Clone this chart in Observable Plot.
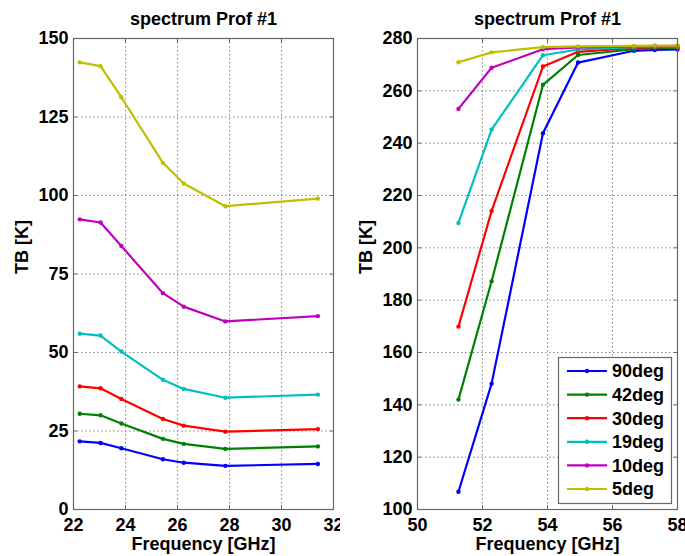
<!DOCTYPE html>
<html>
<head>
<meta charset="utf-8">
<script src="https://cdn.jsdelivr.net/npm/d3@7"></script>
<script src="https://cdn.jsdelivr.net/npm/@observablehq/plot@0.6"></script>
<style>
  html, body { margin: 0; padding: 0; background: #fff; overflow: hidden; }
  #wrap { position: relative; width: 685px; height: 556px; background: #fff; }
  #left { position: absolute; left: 0; top: 0; }
  #right { position: absolute; left: 340px; top: 0; }
</style>
</head>
<body>
<div id="wrap"><div id="left"></div><div id="right"></div></div>
<script>
// ---- data ----
const angles = ["90deg", "42deg", "30deg", "19deg", "10deg", "5deg"];
const colors = ["#0000ff", "#008000", "#ff0000", "#00bfbf", "#bf00bf", "#bfbf00"];

const freqK = [22.24, 23.04, 23.84, 25.44, 26.24, 27.84, 31.40];
const tbK_90 = [21.7, 21.2, 19.5, 16.0, 14.9, 13.9, 14.5];
const tbK_42 = [30.5, 30.0, 27.4, 22.5, 20.9, 19.3, 20.1];
const tbK_30 = [39.2, 38.6, 35.2, 28.8, 26.7, 24.8, 25.6];
const tbK_19 = [56.0, 55.4, 50.3, 41.3, 38.4, 35.6, 36.6];
const tbK_10 = [92.4, 91.4, 83.9, 68.9, 64.6, 59.9, 61.6];
const tbK_5  = [142.4, 141.2, 131.3, 110.4, 103.8, 96.6, 99.0];

const freqV = [51.26, 52.28, 53.86, 54.94, 56.66, 57.30, 58.00];
const tbV_90 = [106.8, 148.1, 243.8, 270.8, 275.3, 275.6, 275.8];
const tbV_42 = [142.0, 187.2, 262.3, 273.7, 275.9, 276.3, 276.5];
const tbV_30 = [169.9, 214.1, 269.3, 274.9, 276.4, 276.7, 276.8];
const tbV_19 = [209.5, 245.2, 273.6, 275.8, 276.7, 276.9, 277.0];
const tbV_10 = [253.1, 268.8, 275.9, 276.6, 277.0, 277.1, 277.2];
const tbV_5  = [270.9, 274.7, 276.7, 277.0, 277.2, 277.3, 277.3];

const ticksKx = [22, 24, 26, 28, 30, 32];
const ticksKy = [0, 25, 50, 75, 100, 125, 150];
const ticksVx = [50, 52, 54, 56, 58];
const ticksVy = [100, 120, 140, 160, 180, 200, 220, 240, 260, 280];

const titleText = "spectrum Prof #1";
const xLabel = "Frequency [GHz]";
const yLabel = "TB [K]";

// ---- build tables ----
function table(freq, series) {
  const rows = [];
  series.forEach((vals, i) => vals.forEach((v, j) => rows.push({angle: angles[i], f: freq[j], tb: v})));
  return rows;
}
const dataK = table(freqK, [tbK_90, tbK_42, tbK_30, tbK_19, tbK_10, tbK_5]);
const dataV = table(freqV, [tbV_90, tbV_42, tbV_30, tbV_19, tbV_10, tbV_5]);

const FONT = "'Liberation Sans', Arial, Helvetica, sans-serif";

function panel(data, xDom, yDom, xt, yt, width, mLeft, mRight) {
  return Plot.plot({
    width, height: 556,
    marginLeft: mLeft, marginRight: mRight, marginTop: 38, marginBottom: 47,
    style: {fontFamily: FONT, fontSize: "18px", fontWeight: "bold", color: "#000", background: "#fff"},
    x: {domain: xDom},
    y: {domain: yDom},
    color: {domain: angles, range: colors},
    marks: [
      Plot.gridX(xt, {stroke: "#888", strokeOpacity: 1, strokeWidth: 1, strokeDasharray: "1.5,2.5"}),
      Plot.gridY(yt, {stroke: "#888", strokeOpacity: 1, strokeWidth: 1, strokeDasharray: "1.5,2.5"}),
      Plot.line(data, {x: "f", y: "tb", z: "angle", stroke: "angle", strokeWidth: 2.2}),
      Plot.dot(data, {x: "f", y: "tb", fill: "angle", r: 2.2}),
      Plot.frame({stroke: "#666", strokeWidth: 1.2}),
      Plot.axisX(xt, {anchor: "bottom", tickSize: 0, tickPadding: 9, label: null, fontSize: 18, fontWeight: "bold"}),
      Plot.axisX(xt, {anchor: "bottom", tickSize: -4, text: null, label: null, stroke: "#666"}),
      Plot.axisX(xt, {anchor: "top", tickSize: -4, text: null, label: null, stroke: "#666"}),
      Plot.axisY(yt, {anchor: "left", tickSize: 0, tickPadding: 5, label: null, fontSize: 18, fontWeight: "bold"}),
      Plot.axisY(yt, {anchor: "left", tickSize: -4, text: null, label: null, stroke: "#666"}),
      Plot.axisY(yt, {anchor: "right", tickSize: -4, text: null, label: null, stroke: "#666"}),
      Plot.text([titleText], {frameAnchor: "top", dy: -19, lineAnchor: "middle", fontSize: 18, fontWeight: "bold", fill: "#000"}),
      Plot.text([xLabel], {frameAnchor: "bottom", dy: 35, lineAnchor: "middle", fontSize: 18, fontWeight: "bold", fill: "#000"}),
      Plot.text([yLabel], {frameAnchor: "left", dx: -51, rotate: -90, fontSize: 18, fontWeight: "bold", fill: "#000"})
    ]
  });
}

const left = panel(dataK, [22, 32], [0, 150], ticksKx, ticksKy, 340, 73, 7);
const right = panel(dataV, [50, 58], [100, 280], ticksVx, ticksVy, 345, 77, 8);
left.style.overflow = "visible";
right.style.overflow = "visible";
document.getElementById("left").appendChild(left);
document.getElementById("right").appendChild(right);

// ---- legend (pixel layout inside right panel) ----
const lg = d3.select(right).append("g").attr("font-family", FONT).attr("text-anchor", "start");
lg.append("rect").attr("x", 218.5).attr("y", 357.5).attr("width", 113).attr("height", 146)
  .attr("fill", "#fff").attr("stroke", "#666").attr("stroke-width", 1.2);
angles.forEach((a, i) => {
  const y = 371 + i * 23.6;
  lg.append("line").attr("x1", 227).attr("x2", 267).attr("y1", y).attr("y2", y)
    .attr("stroke", colors[i]).attr("stroke-width", 2.2);
  lg.append("circle").attr("cx", 247).attr("cy", y).attr("r", 2.2).attr("fill", colors[i]);
  lg.append("text").attr("x", 272).attr("y", y).attr("dy", "0.35em").attr("text-anchor", "start")
    .attr("font-size", 18).attr("font-weight", "bold").attr("fill", "#000").text(a);
});
</script>
</body>
</html>
